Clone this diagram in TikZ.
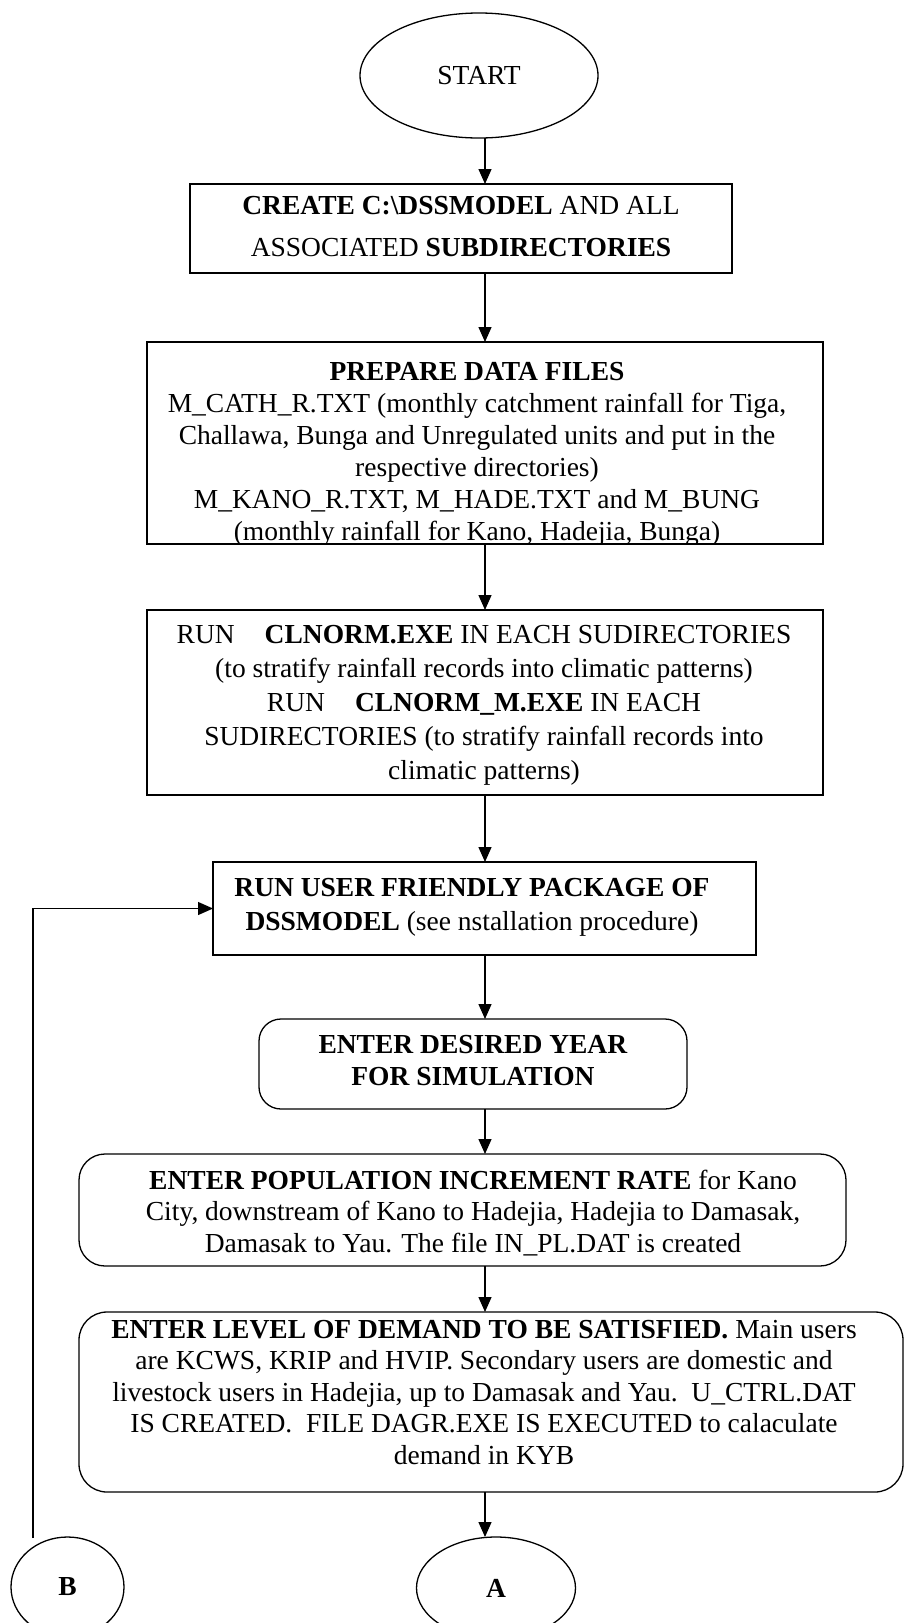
\documentclass[tikz,border=0pt]{standalone}
\usepackage{fontspec}
\setmainfont{Liberation Serif}
\usetikzlibrary{shapes.geometric,arrows.meta}
\begin{document}
\begin{tikzpicture}[x=1pt,y=-1pt,
  every node/.style={inner sep=0pt,outer sep=0pt},
  sbox/.style={draw,line width=1.3pt,rectangle},
  rbox/.style={draw,line width=1.3pt,rectangle,rounded corners=#1},
  txt/.style={align=center,anchor=north,font=\fontsize{27.5}{32}\selectfont},
  ell/.style={draw,line width=1.3pt,ellipse,font=\fontsize{27.5}{32}\selectfont},
  arr/.style={line width=1.3pt,-{Triangle[length=15pt,width=13pt]}},
]
\useasboundingbox (0,0) rectangle (905,1623);
\coordinate (ax) at (485,0);

% START
\node[ell,minimum width=238pt,minimum height=125pt] (start) at (479,75.5) {START};

% Box 1
\node[sbox,minimum width=542pt,minimum height=89pt] (b1) at (461,228.5) {};
\node[txt,font=\fontsize{27.5}{42}\selectfont] (t1) at (461,196)
  {\textbf{CREATE C:\textbackslash DSSMODEL} AND ALL\\ ASSOCIATED \textbf{SUBDIRECTORIES}};

% Box 2 (last line clipped by the border)
\node[sbox,minimum width=676pt,minimum height=202pt] (b2) at (485,443) {};
\begin{scope}
  \clip (b2.south west) rectangle (b2.north east);
  \node[txt] (t2) at (477,362)
  {\textbf{PREPARE DATA FILES}\\
   M\_CATH\_R.TXT (monthly catchment rainfall for Tiga,\\
   Challawa, Bunga and Unregulated units and put in the\\
   respective directories)\\
   M\_KANO\_R.TXT, M\_HADE.TXT and M\_BUNG\\
   (monthly rainfall for Kano, Hadejia, Bunga)};
\end{scope}

% Box 3
\node[sbox,minimum width=676pt,minimum height=185pt] (b3) at (485,702.5) {};
\node[txt,font=\fontsize{27.5}{34}\selectfont] (t3) at (484,625)
  {RUN\hspace{30pt}\textbf{CLNORM.EXE} IN EACH SUDIRECTORIES\\
   (to stratify rainfall records into climatic patterns)\\
   RUN\hspace{30pt}\textbf{CLNORM\_M.EXE} IN EACH\\
   SUDIRECTORIES (to stratify rainfall records into\\
   climatic patterns)};

% Box 4
\node[sbox,minimum width=543pt,minimum height=93pt] (b4) at (484.5,908.5) {};
\node[txt,font=\fontsize{27.5}{34}\selectfont] (t4) at (472,878)
  {\textbf{RUN USER FRIENDLY PACKAGE OF}\\
   \textbf{DSSMODEL} (see nstallation procedure)};

% Box 5
\node[rbox=22pt,minimum width=428pt,minimum height=90pt] (b5) at (473,1064) {};
\node[txt] (t5) at (473,1035)
  {\textbf{ENTER DESIRED YEAR}\\ \textbf{FOR SIMULATION}};

% Box 6
\node[rbox=26pt,minimum width=767pt,minimum height=112pt] (b6) at (462.5,1210) {};
\node[txt,font=\fontsize{27.5}{31.5}\selectfont] (t6) at (473,1170)
  {\textbf{ENTER POPULATION INCREMENT RATE} for Kano\\
   City, downstream of Kano to Hadejia, Hadejia to Damasak,\\
   Damasak to Yau. The file IN\_PL.DAT is created};

% Box 7
\node[rbox=28pt,minimum width=824pt,minimum height=180pt] (b7) at (491,1402) {};
\node[txt,font=\fontsize{27.5}{31.5}\selectfont] (t7) at (484,1320)
  {\textbf{ENTER LEVEL OF DEMAND TO BE SATISFIED.} Main users\\
   are KCWS, KRIP and HVIP. Secondary users are domestic and\\
   livestock users in Hadejia, up to Damasak and Yau.\ \ U\_CTRL.DAT\\
   IS CREATED.\ \ FILE DAGR.EXE IS EXECUTED to calaculate\\
   demand in KYB};

% Connectors A and B
\node[ell,minimum width=159pt,minimum height=102pt] (A) at (496,1588) {\textbf{A}};
\node[ell,minimum width=113pt,minimum height=100pt] (B) at (67.5,1587) {\textbf{B}};

% Arrows
\draw[arr] (start.south -| ax) -- (b1.north -| ax);
\draw[arr] (b1.south -| ax) -- (b2.north -| ax);
\draw[arr] (b2.south -| ax) -- (b3.north -| ax);
\draw[arr] (b3.south -| ax) -- (b4.north -| ax);
\draw[arr] (b4.south -| ax) -- (b5.north -| ax);
\draw[arr] (b5.south -| ax) -- (b6.north -| ax);
\draw[arr] (b6.south -| ax) -- (b7.north -| ax);
\draw[arr] (b7.south -| ax) -- (A.north -| ax);

% Feedback from B
\coordinate (fb) at (33,1538);
\draw[arr] (fb) |- (b4.west);
\end{tikzpicture}
\end{document}
